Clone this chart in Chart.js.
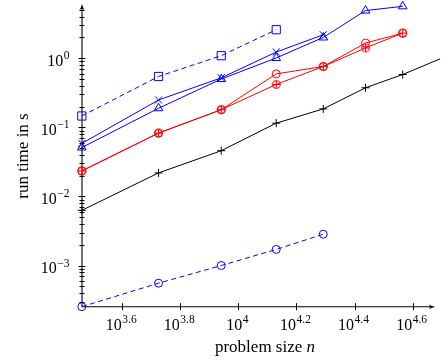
<!DOCTYPE html>
<html>
<head>
<meta charset="utf-8">
<script src="https://cdn.jsdelivr.net/npm/chart.js@4/dist/chart.umd.min.js"></script>
<style>
  html, body { margin: 0; padding: 0; background: #fff; }
  #chart { display: block; }
</style>
</head>
<body>
<canvas id="chart" width="441" height="362"></canvas>
<script>
// problem sizes n (shared by all runs)
const sizes = [2890, 5310, 8730, 13500, 19600, 27400, 36800, 49500];

// run times in seconds
const blueSquare = [0.146, 0.545, 1.09, 2.59];
const blueCross = [0.0585, 0.249, 0.521, 1.23, 2.19];
const blueTriangle = [0.051, 0.189, 0.50, 1.01, 2.0, 4.9, 5.65];
const redCircle = [0.0234, 0.0826, 0.180, 0.594, 0.76, 1.66, 2.31];
const redOplus = [0.0234, 0.0826, 0.180, 0.418, 0.76, 1.41, 2.31];
const blackPlus = [0.00629, 0.0219, 0.0459, 0.115, 0.185, 0.374, 0.582, 0.98];
const blueCircle = [0.000254, 0.000555, 0.00100, 0.00171, 0.00284];

// tick exponents (10^e)
const xTickExps = [3.6, 3.8, 4, 4.2, 4.4, 4.6];
const yTickExps = [-3, -2, -1, 0];

const xRange = [3.4615, 4.6743];
const yRange = [-3.596, 0.745];

const FONT = '"Liberation Serif", "Times New Roman", serif';
const BLUE = '#0000ff', RED = '#ff0000', BLACK = '#000000';

function pts(values) {
  return values.map((v, i) => ({ x: sizes[i], y: v }));
}

// circle with a plus inside, pgfplots' oplus mark
function oplusMark(color) {
  const c = document.createElement('canvas');
  c.width = 11; c.height = 11;
  const g = c.getContext('2d');
  g.strokeStyle = color;
  g.lineWidth = 1;
  g.beginPath();
  g.arc(5.5, 5.5, 4, 0, Math.PI * 2);
  g.moveTo(1.5, 5.5); g.lineTo(9.5, 5.5);
  g.moveTo(5.5, 1.5); g.lineTo(5.5, 9.5);
  g.stroke();
  return c;
}

function series(values, color, style, radius, dashed) {
  return {
    data: pts(values),
    borderColor: color,
    borderWidth: 1,
    borderDash: dashed ? [5, 3.5] : [],
    pointStyle: style,
    pointRadius: radius,
    pointBorderColor: color,
    pointBackgroundColor: 'rgba(0,0,0,0)',
    pointBorderWidth: 1,
    fill: false,
    tension: 0
  };
}

function expText(e) {
  return e < 0 ? '\u2212' + Math.abs(e) : String(e);
}

// "10" with a raised exponent; (left, base) is the baseline start of "10"
function drawPower(ctx, e, left, base, raise) {
  ctx.font = '16px ' + FONT;
  ctx.fillText('10', left, base);
  const w = ctx.measureText('10').width;
  ctx.font = '11.5px ' + FONT;
  ctx.fillText(expText(e), left + w + 0.5, base - raise);
}

function powerWidth(ctx, e) {
  ctx.font = '16px ' + FONT;
  const w = ctx.measureText('10').width;
  ctx.font = '11.5px ' + FONT;
  return w + 0.5 + ctx.measureText(expText(e)).width;
}

function seg(ctx, x1, y1, x2, y2) {
  ctx.beginPath();
  ctx.moveTo(x1, y1);
  ctx.lineTo(x2, y2);
  ctx.stroke();
}

const axesPlugin = {
  id: 'axesPlugin',
  beforeDatasetsDraw(chart) {
    const { ctx, chartArea: a, scales: { x, y } } = chart;
    ctx.save();
    ctx.strokeStyle = BLACK;
    ctx.lineWidth = 1;

    // y ticks: decades plus minor 2..9
    for (let d = -4; d <= 0; d++) {
      for (let k = 1; k <= 9; k++) {
        const v = k * Math.pow(10, d);
        if (v < y.min || v > y.max * 0.92) continue;
        const py = Math.round(y.getPixelForValue(v)) + 0.5;
        const len = k === 1 ? 3.5 : 2.5;
        seg(ctx, a.left - len, py, a.left + len, py);
      }
    }
    // x ticks
    xTickExps.forEach(e => {
      const px = Math.round(x.getPixelForValue(Math.pow(10, e))) + 0.5;
      seg(ctx, px, a.bottom - 3.5, px, a.bottom + 3.5);
    });

    // axis lines
    ctx.lineWidth = 1.1;
    seg(ctx, a.left, a.bottom, a.left, a.top - 1);
    seg(ctx, a.left, a.bottom, a.right - 1, a.bottom);

    // arrow heads
    ctx.fillStyle = BLACK;
    ctx.beginPath();
    ctx.moveTo(a.left, a.top - 3);
    ctx.quadraticCurveTo(a.left + 0.5, a.top + 1, a.left + 2.5, a.top + 3);
    ctx.lineTo(a.left, a.top + 2);
    ctx.lineTo(a.left - 2.5, a.top + 3);
    ctx.quadraticCurveTo(a.left - 0.5, a.top + 1, a.left, a.top - 3);
    ctx.fill();
    ctx.beginPath();
    ctx.moveTo(a.right + 1, a.bottom);
    ctx.quadraticCurveTo(a.right - 3, a.bottom + 0.5, a.right - 5, a.bottom + 2.5);
    ctx.lineTo(a.right - 4, a.bottom);
    ctx.lineTo(a.right - 5, a.bottom - 2.5);
    ctx.quadraticCurveTo(a.right - 3, a.bottom - 0.5, a.right + 1, a.bottom);
    ctx.fill();
    ctx.restore();
  },
  afterDraw(chart) {
    const { ctx, chartArea: a, scales: { x, y } } = chart;
    ctx.save();
    ctx.fillStyle = BLACK;
    ctx.textAlign = 'left';
    ctx.textBaseline = 'alphabetic';

    xTickExps.forEach(e => {
      const px = x.getPixelForValue(Math.pow(10, e));
      const w = powerWidth(ctx, e);
      drawPower(ctx, e, px - w / 2 - 1, a.bottom + 23.5, 7);
    });
    yTickExps.forEach(e => {
      const py = y.getPixelForValue(Math.pow(10, e));
      const w = powerWidth(ctx, e);
      drawPower(ctx, e, 69.5 - w, py + 7.5, 6.5);
    });

    // axis titles
    ctx.font = '17px ' + FONT;
    const t1 = 'problem size ';
    const w1 = ctx.measureText(t1).width;
    ctx.font = 'italic 17px ' + FONT;
    const w2 = ctx.measureText('n').width;
    const sx = 265 - (w1 + w2) / 2;
    ctx.font = '17px ' + FONT;
    ctx.fillText(t1, sx, 352);
    ctx.font = 'italic 17px ' + FONT;
    ctx.fillText('n', sx + w1, 352);

    ctx.translate(28, 156);
    ctx.rotate(-Math.PI / 2);
    ctx.font = '17px ' + FONT;
    ctx.textAlign = 'center';
    ctx.fillText('run time in s', 0, 0);
    ctx.restore();
  }
};

new Chart(document.getElementById('chart'), {
  type: 'line',
  data: {
    datasets: [
      series(blueSquare, BLUE, 'rect', 5.8, true),
      series(blueCross, BLUE, 'crossRot', 5, false),
      series(blueTriangle, BLUE, 'triangle', 5, false),
      series(redCircle, RED, 'circle', 4, false),
      series(redOplus, RED, oplusMark(RED), 4, false),
      series(blackPlus, BLACK, 'cross', 4, false),
      series(blueCircle, BLUE, 'circle', 4, true)
    ]
  },
  options: {
    responsive: false,
    animation: false,
    clip: false,
    layout: { padding: { left: 82, top: 5, right: 0, bottom: 55.3 } },
    plugins: { legend: { display: false }, tooltip: { enabled: false } },
    scales: {
      x: {
        type: 'logarithmic',
        display: false,
        min: Math.pow(10, xRange[0]),
        max: Math.pow(10, xRange[1])
      },
      y: {
        type: 'logarithmic',
        display: false,
        min: Math.pow(10, yRange[0]),
        max: Math.pow(10, yRange[1])
      }
    }
  },
  plugins: [axesPlugin]
});
</script>
</body>
</html>
